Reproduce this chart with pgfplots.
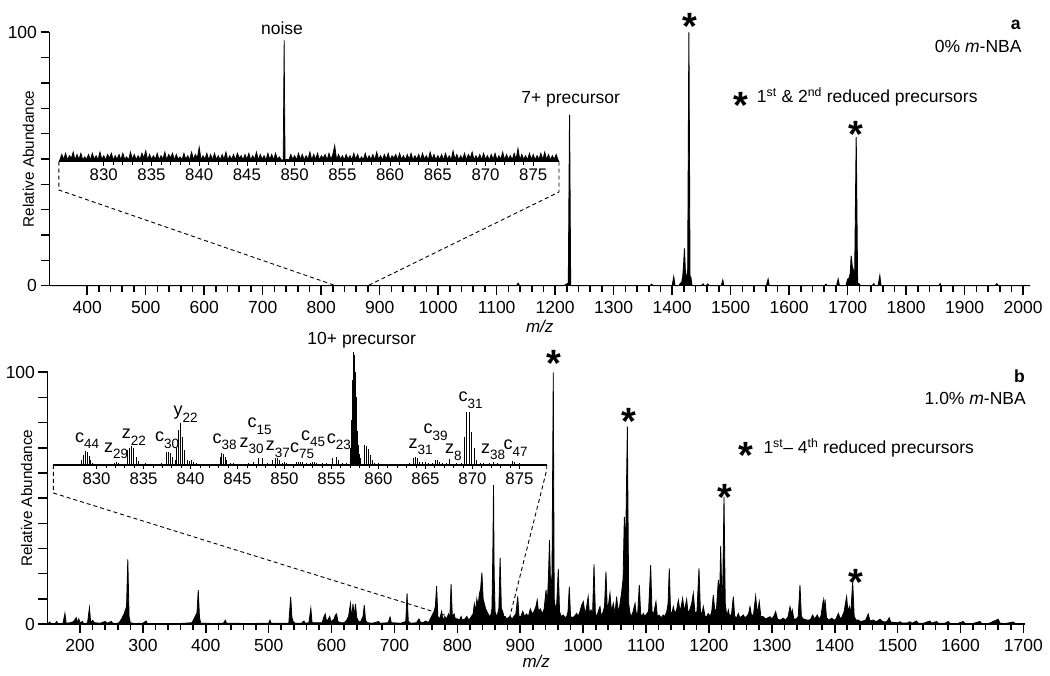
\documentclass[border=0pt]{standalone}
\usepackage{fontspec}
\setmainfont{Liberation Sans}
\usepackage{pgfplots}
\pgfplotsset{compat=1.18}
\newcommand{\fs}[1]{\fontsize{#1}{#1}\selectfont}
\newcommand{\ion}[2]{#1\raisebox{-6.5pt}{\fontsize{13.5}{14}\selectfont #2}}
\pgfplotsset{
 mainax/.style={scale only axis, anchor=south west, ymin=0, ymax=100,
   axis x line=bottom, axis y line=left, axis line style={-, line width=1.6pt},
   minor x tick num=4, ytick={0,10,...,100}, yticklabels={0,,,,,,,,,,100},
   tick align=outside, tick style={line width=1.6pt, black},
   major tick length=9pt, minor tick length=6pt,
   ticklabel style={font=\fs{17.5}},
   xticklabel style={yshift=-3pt},
   /pgf/number format/1000 sep={}, /pgf/number format/assume math mode=true,
   xlabel={\textit{m/z}}, ylabel={Relative Abundance},
   ylabel style={at={(axis description cs:-0.0214,0.5)}, anchor=center, font=\fs{15.3}},
   clip=false, no markers},
 insetax/.style={scale only axis, anchor=south west, ymin=0, ymax=100,
   axis x line=bottom, hide y axis, axis line style={-, line width=1.2pt},
   xtick={830,835,...,875}, minor x tick num=4,
   tick align=outside, tick style={line width=0.8pt, black},
   major tick length=4pt, minor tick length=3pt,
   ticklabel style={font=\fs{16.8}},
   /pgf/number format/1000 sep={}, /pgf/number format/assume math mode=true,
   clip=false, no markers}
}
\begin{document}
\begin{tikzpicture}
\path[use as bounding box] (0,0) rectangle (1050pt,675pt);
% ---------------- top main
\begin{axis}[mainax, width=980.5pt, height=253.4pt, at={(49.5pt,389.3pt)},
  xmin=335.6, xmax=2011.7, xtick={400,500,...,2000},
  xlabel style={at={(axis description cs:0.5,0)}, anchor=base, yshift=-46.5pt, font=\fs{17}}]
\addplot[black, line width=0.9pt, fill=black] coordinates {
(335.6,0)(1134,0)(1136.8,1)(1139,0)(1215,0)(1219,0.6)(1222.5,1)(1224.6,67.4)(1226.5,0)
(1362,0)(1365,0.6)(1367,0)(1400,0)(1402.7,3.5)(1405,0)(1412,0)(1414,1)(1416,1)(1418,3.5)
(1419.5,8)(1421,14.7)(1422.5,6)(1424,4)(1426.5,4)(1428.6,100)(1430.5,4)(1432,3.3)(1434,0)
(1450,0)(1453,0.7)(1455,0)(1458,0)(1461,0.7)(1463,0)(1484,0)(1486.5,2.2)(1488.5,0)
(1561,0)(1564,2.6)(1566,0)(1660,0)(1663,0.6)(1665,0)(1681,0)(1683.7,2.6)(1686,0)
(1697,0)(1700,2.6)(1702.5,3)(1704.5,5)(1706,11.8)(1708,7.5)(1710,6)(1712,4)(1714.6,58.6)
(1717,1)(1720,0.7)(1722,0)(1742,0)(1744.6,0.8)(1747,0)(1752,0)(1755,4)(1757,0)
(1856,0)(1858,0.8)(1860,0)(1952,0)(1955,0.8)(1958,0)(2011.7,0)};
\end{axis}
% ---------------- top inset
\begin{axis}[insetax, width=500.1pt, height=121.7pt, at={(58.9pt,513.3pt)},
  xmin=825.3, xmax=877.7]
\addplot[black, line width=0.7pt, fill=black] coordinates {
(825.3,0)(825.4,1.5)(825.6,6)(825.8,2)(826.0,7)(826.2,1.5)(826.4,5)(826.6,3)(826.8,8)(827.0,1.5)(827.2,6)
(827.4,2)(827.6,7)(827.8,1.5)(828.0,4)(828.2,2)(828.4,6)(828.6,1.5)(828.8,7)(829.0,2)(829.2,5)
(829.4,1.5)(829.6,8)(829.8,2)(830.0,5)(830.2,1.5)(830.4,6)(830.6,3)(830.8,7)(831.0,1.5)(831.2,5)
(831.4,2)(831.6,6)(831.8,1.5)(832.0,7)(832.2,2)(832.4,4)(832.6,1.5)(832.8,8)(833.0,2)(833.2,6)
(833.4,1.5)(833.6,5)(833.8,2)(834.0,7)(834.2,3)(834.4,9)(834.6,1.5)(834.8,6)(835.0,2)(835.2,5)
(835.4,2)(835.6,7)(835.8,1.5)(836.0,5)(836.2,2)(836.4,8)(836.6,1.5)(836.8,6)(837.0,3)(837.2,7)
(837.4,1.5)(837.6,6)(837.8,2)(838.0,4)(838.2,1.5)(838.4,7)(838.6,2)(838.8,5)(839.0,1.5)(839.2,8)
(839.4,2)(839.6,6)(839.8,3)(840.0,12)(840.2,1.5)(840.4,5)(840.6,2)(840.8,7)(841.0,1.5)(841.2,6)
(841.4,1.5)(841.6,7)(841.8,2)(842.0,5)(842.2,1.5)(842.4,6)(842.6,2)(842.8,8)(843.0,1.5)(843.2,5)
(843.4,2)(843.6,6)(843.8,1.5)(844.0,7)(844.2,3)(844.4,5)(844.6,1.5)(844.8,6)(845.0,2)(845.2,7)
(845.4,1.5)(845.6,5)(845.8,2)(846.0,8)(846.2,1.5)(846.4,6)(846.6,2)(846.8,5)(847.0,1.5)(847.2,7)
(847.4,2)(847.6,6)(847.8,1.5)(848.0,7)(848.2,2)(848.4,4)(848.6,1.5)(848.8,1.5)(848.9,100)(849.0,1.5)(849.2,2)
(849.4,1.5)(849.6,6)(849.8,2)(850.0,5)(850.2,1.5)(850.4,7)(850.6,2)(850.8,6)(851.0,1.5)(851.2,5)
(851.4,2)(851.6,8)(851.8,1.5)(852.0,6)(852.2,2)(852.4,7)(852.6,1.5)(852.8,5)(853.0,3)(853.2,6)
(853.4,1.5)(853.6,7)(853.8,2)(854.0,6)(854.2,13.5)(854.4,1.5)(854.6,6)(854.8,2)(855.0,5)(855.2,1.5)
(855.4,6)(855.6,2)(855.8,5)(856.0,1.5)(856.2,7)(856.4,2)(856.6,6)(856.8,1.5)(857.0,4)(857.2,2)
(857.4,7)(857.6,1.5)(857.8,5)(858.0,2)(858.2,6)(858.4,1.5)(858.6,8)(858.8,2)(859.0,5)(859.2,1.5)
(859.4,6)(859.6,2)(859.8,7)(860.0,1.5)(860.2,5)(860.4,3)(860.6,6)(860.8,1.5)(861.0,7)(861.2,2)
(861.4,5)(861.6,1.5)(861.8,6)(862.0,2)(862.2,7)(862.4,1.5)(862.6,5)(862.8,2)(863.0,6)(863.2,1.5)
(863.4,7)(863.6,2)(863.8,5)(864.0,1.5)(864.2,8)(864.4,2)(864.6,6)(864.8,1.5)(865.0,5)(865.2,2)
(865.4,6)(865.6,1.5)(865.8,7)(866.0,2)(866.2,5)(866.4,1.5)(866.6,9)(866.8,2)(867.0,6)(867.2,1.5)
(867.4,5)(867.6,2)(867.8,7)(868.0,1.5)(868.2,6)(868.4,3)(868.6,8)(868.8,1.5)(869.0,5)(869.2,2)
(869.4,6)(869.6,1.5)(869.8,7)(870.0,2)(870.2,5)(870.4,1.5)(870.6,6)(870.8,2)(871.0,7)(871.2,1.5)
(871.4,5)(871.6,2)(871.8,8)(872.0,1.5)(872.2,6)(872.4,2)(872.6,5)(872.8,1.5)(873.0,7)(873.2,2)
(873.4,11)(873.6,1.5)(873.8,6)(874.0,2)(874.2,5)(874.4,1.5)(874.6,7)(874.8,2)(875.0,6)(875.2,1.5)
(875.4,5)(875.6,2)(875.8,7)(876.0,1.5)(876.2,8)(876.4,2)(876.6,6)(876.8,1.5)(877.0,5)(877.2,2)
(877.4,6)(877.6,1.5)(877.7,0)};
\end{axis}
% ---------------- bottom main
\begin{axis}[mainax, width=977.5pt, height=251.7pt, at={(47.5pt,51pt)},
  xmin=148.3, xmax=1702.6, xtick={200,300,...,1700},
  xlabel style={at={(axis description cs:0.5,0)}, anchor=base, yshift=-43pt, font=\fs{17}}]
\addplot[black, line width=0.8pt, fill=black] coordinates {
(148.3,0)(152,0.8)(154,0)(160,0)(163,1.0)(165,0)(173,0.3)(176,4.2)(178,0.3)(185,0.5)(190,1.0)
(194,2.5)(196,0.5)(198,2.0)(200,0.5)(204,1.0)(206,0)(212,0.5)(215,6.5)(217,0.5)(220,1.5)(223,0.5)
(232,0.3)(240,1.0)(243,0.3)(250,1.0)(252,0.3)(258,0.2)(262,0.5)(266,2)(268,3)(270,4)(272,5.5)
(274,7)(276,25.7)(278,3)(280,0.5)(286,0.2)(300,0.3)(305,1.2)(307,0.2)(330,0.2)(360,0.2)(378,0.5)
(381,2)(384,3.5)(386,4.5)(388,13.5)(390,2.5)(392,0.3)(415,0.2)(428,0.3)(431,1.5)(433,0.3)
(470,0.2)(500,0.3)(502,1.5)(504,0.3)(532,0.3)(535,10.8)(537,2.5)(539,1)(542,0.3)(552,0.3)
(556,1.2)(558,0.3)(564,0.5)(567,6.3)(569,0.5)(585,0.5)(588,3)(590,4)(592,1)(595,2)(597,3)
(599,0.8)(604,2)(606,3.5)(608,4)(610,1)(614,0.5)(620,0.5)(624,1.5)(627,3)(630,8.1)(632,2)
(634,8)(636,3)(638,8)(640,2.5)(643,1)(646,0.8)(650,3)(652,7.5)(654,1.5)(657,0.5)(665,0.3)
(675,1)(677,0.3)(690,0.5)(693,2.8)(695,0.5)(710,0.3)(718,1)(720,12.2)(722,1)(726,0.3)(735,0.5)
(739,2)(741,0.8)(745,0.5)(750,1.2)(754,0.5)(757,2)(760,3.5)(763,5)(765,7)(767,15)(769,3)(772,2)
(775,5)(777,1.5)(780,3)(783,2)(786,4)(788,2)(790,15.8)(792,3)(795,4)(797,1.5)(800,2)(803,1.5)
(806,3)(808,1.5)(812,2)(815,3)(818,1.5)(821,2.5)(825,4)(827,8)(829,5)(831,10)(833,7)(835,12)
(837,14)(839,20.4)(841,10)(843,8)(845,6)(847,5)(849,4)(851,3)(853,3.5)(855,6)(856.5,30)
(857.5,55.2)(858.5,20)(860,5)(862,3)(864,4)(866,6)(868,26.3)(870,6)(872,5)(874,3)(876,3)
(878,2)(881,2.5)(884,3)(887,2)(890,3)(893,4)(896,11)(898,3)(901,3)(904,5)(907,3)(910,4)
(913,3)(916,6)(919,4)(922,5)(925,7)(927,9.5)(929,5)(932,6)(935,4)(938,6)(941,13.5)(943,8)
(945,20)(946.5,33.4)(948.5,12)(950.5,20)(952.5,100)(954,10)(956,6)(958,8)(960.5,21.9)(962.5,5)
(965,3)(968.5,3.6)(971,2.5)(974,3)(976,5)(978,14.8)(980,3)(983,2.5)(986,3)(989.7,4.2)(992,3)
(995,5)(997.7,7.5)(1000.3,8.9)(1003,4)(1005,6)(1008,10.9)(1010,4)(1012.5,5.6)(1015,4)
(1017.3,23.7)(1019.5,4)(1022,3)(1024,5)(1026.8,6.9)(1029,3)(1032,5)(1034,7)(1036.3,20.8)
(1038.5,5)(1040.5,8)(1042.7,12.2)(1045,5)(1048,8.2)(1050.5,4)(1053.3,10.9)(1055.5,5)(1058,7)
(1061.3,12.8)(1063.5,18)(1065.5,42.6)(1067.5,30)(1070.3,78.4)(1072.5,8)(1074.5,4.2)(1077,3)
(1079.5,5)(1082.5,8.2)(1085,3)(1087,5)(1089.3,15.5)(1091.5,4)(1093.5,3)(1095.7,4.2)(1098,3)
(1101,4)(1104,5)(1107.4,23.4)(1109.5,5)(1112,4)(1115.8,8.9)(1118,3)(1121,3.5)(1124,2.5)
(1127.5,3.6)(1130,3)(1133,5)(1135,8)(1137,22.1)(1139,5)(1141,4)(1143.4,6.9)(1146,4)(1149,6)
(1151.4,9.5)(1154,5)(1156,7)(1158.2,10.2)(1161,5)(1164.6,9.8)(1167,4)(1170,6)(1172.5,8)
(1175.2,12.2)(1178,4)(1181,5)(1184.2,22.1)(1186.5,5)(1189,4)(1191.1,6.9)(1194,3)(1196.5,3)
(1199,4.2)(1202,3)(1204.5,5)(1207,11.5)(1209.5,5)(1212,6)(1215,17.5)(1217,10)(1218.7,31)
(1220.5,12)(1222,15)(1224,50.6)(1226,8)(1228.5,3)(1230.9,5.6)(1233,3)(1236,4)(1238.8,10.9)
(1241,3)(1244,2.5)(1246.8,4.2)(1249,2.5)(1252,3)(1254.7,3.6)(1257,2.5)(1260,3)(1263,4)
(1265.3,6.9)(1268,3)(1271,4)(1274.3,11.1)(1277,4)(1280.1,8.9)(1282.5,3)(1286.5,2.9)(1290,2)
(1294,2.5)(1297.1,2.9)(1300,2)(1303,3)(1306.1,4.9)(1309,2)(1313,1.5)(1318.3,2.3)(1322,1.5)
(1326,3)(1328.9,6.9)(1331,4)(1332.6,5.6)(1335,2)(1339,2)(1342,3)(1344.8,15.5)(1347,3)(1350,2)
(1355.4,1.6)(1359,1.5)(1362,2)(1364.9,3.6)(1368,2)(1372.4,3.6)(1375,2)(1378,3)(1381.9,9.5)
(1383.3,5)(1384.6,9.8)(1387,2.5)(1391,1.5)(1395.2,2.3)(1399,1.5)(1402,2)(1405.8,4.2)(1409,2)
(1412,3)(1415,5)(1417,8)(1419,10.9)(1421,5)(1423.3,6.9)(1425.5,4)(1428.6,16.8)(1431,3)
(1434,1.5)(1437.5,1.6)(1441,1)(1445,1.2)(1449,1.5)(1453.4,4)(1456,1.2)(1461.4,1.6)(1465,1)
(1468,1.2)(1472,1.9)(1476,1)(1480,0.8)(1483,1)(1486.8,2.5)(1489,0.8)(1495,0.6)(1500,0.5)
(1503.8,0.9)(1507,0.4)(1515,0.4)(1519.7,0.9)(1523,0.3)(1530,1.2)(1533,0.3)(1541,0.3)
(1551.5,1.2)(1554,0.3)(1562,1)(1565,0.3)(1575,0.3)(1580.7,1)(1583,0.2)(1595,0.2)(1604.5,1)
(1607,0.2)(1620,0.2)(1631,1)(1634,0.2)(1645,0.2)(1660,1.9)(1663,0.3)(1672,0.2)(1684,0.8)
(1687,0.2)(1702.6,0)};
\end{axis}
% ---------------- bottom inset
\begin{axis}[insetax, width=493.4pt, height=113.3pt, at={(53.3pt,210pt)},
  xmin=825.4, xmax=877.9]
\addplot[ycomb, black, line width=0.8pt] coordinates {
(826.0,1)(826.6,1.2)(827.3,0.8)(827.9,1)
(828.4,4)(828.6,9)(828.8,12)(829.0,11.5)(829.2,8)(829.4,4)(829.6,2)
(830.2,1)(830.8,0.8)(831.4,1.2)(831.9,2)(832.1,2.5)(832.3,2)(832.6,1)
(833.26,13.3)(833.47,14.7)(833.73,16.8)(833.97,14.7)(834.26,7.4)(834.5,3.5)
(835.2,1.5)(835.8,1)(836.5,1.2)(836.9,1.5)
(837.45,11.8)(837.63,11.8)(837.88,10.3)(838.1,7.4)(838.34,4.4)
(838.52,14.7)(838.69,30.9)(838.95,36.8)(839.16,25)(839.4,13.2)(839.65,4.4)
(839.9,3.5)(840.1,4)(840.3,3)(840.6,1.5)(841.2,1)(841.9,1.2)(842.5,1)
(843.13,7.4)(843.31,10.3)(843.48,9.7)(843.66,7.4)(843.84,4.4)
(844.2,2)(844.6,1.5)(845.3,1)(845.8,1.2)(846.2,2)(846.7,2.5)(847.2,6.5)(847.6,6)(848.2,1.5)
(848.7,4)(849.0,6)(849.2,6.5)(849.5,4)(849.8,2)(850.0,2.5)(850.2,2)(850.6,1.2)
(851.3,2.5)(851.5,3)(851.7,3)(851.9,2.5)(852.3,1.5)(852.8,2)(853.0,3)(853.2,2.5)(853.4,2)
(853.6,1.2)(854.0,1.5)(854.5,1.5)(855.1,6)(855.5,7)(855.7,4)(856.2,1.5)(856.6,2)
(857.00,8)(857.05,15)(857.10,25)(857.15,40)(857.20,55)(857.25,75)(857.30,92)(857.35,100)
(857.40,97)(857.45,90)(857.50,82)(857.55,70)(857.60,60)(857.65,48)(857.70,38)(857.75,30)
(857.80,24)(857.85,18)(857.90,14)(857.95,10)(858.00,8)(858.05,6)(858.10,4)
(858.47,18)(858.68,17)(858.93,14)(859.1,9)(859.3,4)(859.6,2)(860.0,1.5)(860.6,1)(861.3,1)
(862.0,1.2)(862.7,1)(863.3,1.5)(863.72,6)(863.97,7.5)(864.19,6)(864.4,3)(864.7,2.5)(865.0,3)
(865.3,2)(865.7,2)(866.1,4)(866.3,4.5)(866.5,3)(866.8,2)(867.2,1.5)(867.55,5)(868.3,2)(868.8,1.5)
(869.12,25)(869.4,46.5)(869.65,46.5)(869.93,29.4)(870.18,14.7)(870.47,4.4)
(870.8,2)(871.2,1.5)(871.8,2)(872.2,2.5)(872.6,1.5)(873.2,1)(873.8,1.2)(874.3,3.5)(874.5,3)
(875.0,1.5)(875.6,1)(876.4,1)(877.2,0.8)};
\end{axis}
% ---------------- annotations (pixel coordinates, y downwards)
\begin{scope}[x=1pt,y=-1pt,shift={(0pt,675pt)}]
\tikzset{ast/.style={anchor=base, inner sep=0pt, font=\fs{38}\bfseries},
         txt/.style={inner sep=0pt, font=\fs{17.5}}}
\draw[dash pattern=on 4pt off 3pt, line width=0.9pt] (58.9,161.7) -- (58.9,190) -- (335.7,285.7);
\draw[dash pattern=on 4pt off 3pt, line width=0.9pt] (559,161.7) -- (559,192) -- (367.9,285.7);
\draw[dash pattern=on 4pt off 3pt, line width=0.9pt] (53.3,465) -- (53.3,493) -- (473,624);
\draw[dash pattern=on 4pt off 3pt, line width=0.9pt] (546.7,465) -- (546.7,470) -- (508,624);
% top
\node[txt, anchor=base] at (282,35) {noise};
\node[txt, anchor=base] at (570.7,103.3) {7+ precursor};
\node[ast] at (689.5,39.3) {*};
\node[ast] at (856.3,148) {*};
\node[ast] at (741.2,118.5) {*};
\node[txt, anchor=base west] at (756.7,102.7) {1\textsuperscript{st} \& 2\textsuperscript{nd} reduced precursors};
\node[txt, anchor=base east, font=\fs{17.5}\bfseries] at (1020.7,30) {a};
\node[txt, anchor=base east] at (1021.7,52.7) {0\% \textit{m}-NBA};
% bottom
\node[txt, anchor=base] at (361.7,345) {10+ precursor};
\node[ast] at (553.8,376.5) {*};
\node[ast] at (629.2,434.2) {*};
\node[ast] at (725.2,510.2) {*};
\node[ast] at (855.5,595.2) {*};
\node[ast] at (745.8,468.5) {*};
\node[txt, anchor=base west] at (763.3,453.3) {1\textsuperscript{st}-- 4\textsuperscript{th} reduced precursors};
\node[txt, anchor=base east, font=\fs{17.5}\bfseries] at (1025,382.7) {b};
\node[txt, anchor=base east] at (1026,405) {1.0\% \textit{m}-NBA};
% ion labels
\tikzset{ionl/.style={anchor=base west, inner sep=0pt, font=\fs{18}}}
\node[ionl] at (75,442.3) {\ion{c}{44}};
\node[ionl] at (104,452.3) {\ion{z}{29}};
\node[ionl] at (121.7,439) {\ion{z}{22}};
\node[ionl] at (155,441.7) {\ion{c}{30}};
\node[ionl] at (173.3,415.7) {\ion{y}{22}};
\node[ionl] at (212.3,443.3) {\ion{c}{38}};
\node[ionl] at (247.3,428) {\ion{c}{15}};
\node[ionl] at (239.3,447.5) {\ion{z}{30}};
\node[ionl] at (265.7,450.7) {\ion{z}{37}};
\node[ionl] at (290,452.5) {\ion{c}{75}};
\node[ionl] at (301,440.5) {\ion{c}{45}};
\node[ionl] at (326.7,443.3) {\ion{c}{23}};
\node[ionl] at (408.3,448.3) {\ion{z}{31}};
\node[ionl] at (423.3,434) {\ion{c}{39}};
\node[ionl] at (445,454) {\ion{z}{8}};
\node[ionl] at (458.3,401.7) {\ion{c}{31}};
\node[ionl] at (481,453.3) {\ion{z}{38}};
\node[ionl] at (503.3,450) {\ion{c}{47}};
\end{scope}
\end{tikzpicture}
\end{document}
